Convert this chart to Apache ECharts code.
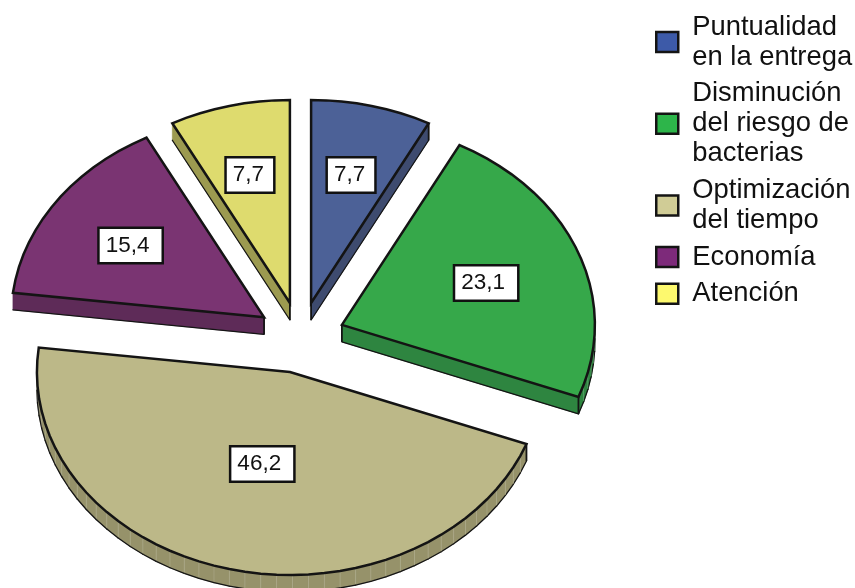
<!DOCTYPE html>
<html>
<head>
<meta charset="utf-8">
<style>html,body{margin:0;padding:0;background:#fff}#chart{width:855px;height:588px}</style>
<script src="https://cdn.jsdelivr.net/npm/echarts@6/dist/echarts.min.js"></script>
</head>
<body>
<div id="chart"></div>
<script>
// Motivos de preferencia, en porcentaje
const categories = ['Puntualidad\nen la entrega', 'Disminución\ndel riesgo de\nbacterias', 'Optimización\ndel tiempo', 'Economía', 'Atención'];
const values = [7.7, 23.1, 46.2, 15.4, 7.7];
const valueLabels = ['7,7', '23,1', '46,2', '15,4', '7,7'];

// Colours: pie faces, extruded walls, legend swatches
const faceColors = ['#4c6197', '#36a84a', '#bcb888', '#7a3472', '#dedb6e'];
const wallColors = ['#3e4b6f', '#2e8540', '#96926a', '#5e2b58', '#9c9a50'];
const swatchColors = ['#3d5aa8', '#2db54a', '#d0cc96', '#7d2a7a', '#fdf96e'];

// Tilted pie geometry, in pixels
const CX = 300.5, CY = 337.5, RX = 253, RY = 203, DEPTH = 17, EXPLODE = 0.175;
const OUTLINE = '#141414';
const LABEL_DROP = 2;

const total = values.reduce((a, b) => a + b, 0);

function pointOn(cx, cy, t, r) {
  return [cx + RX * r * Math.sin(t), cy - RY * r * Math.cos(t)];
}

function drawSlice(index, value, startValue) {
  const t0 = startValue / total * Math.PI * 2;
  const sweep = value / total * Math.PI * 2;
  const t1 = t0 + sweep;
  const mid = (t0 + t1) / 2;
  const tip = pointOn(CX, CY, mid, EXPLODE);

  const arc = [];
  const steps = Math.max(2, Math.round(sweep / (Math.PI / 50)));
  for (let i = 0; i <= steps; i++) {
    arc.push(pointOn(tip[0], tip[1], t0 + sweep * i / steps, 1));
  }
  const top = [tip].concat(arc);
  const drop = p => [p[0], p[1] + DEPTH];
  const children = [];

  // Only edges running right to left face the viewer; the rest stay hidden
  const corners = new Set();
  top.forEach((p, i) => {
    const next = (i + 1) % top.length;
    const q = top[next];
    if (q[0] - p[0] >= -0.01) return;
    children.push({
      type: 'polygon',
      shape: { points: [p, q, drop(q), drop(p)] },
      style: { fill: wallColors[index], stroke: wallColors[index], lineWidth: 0.6 }
    });
    children.push({
      type: 'line',
      shape: { x1: p[0], y1: p[1] + DEPTH, x2: q[0], y2: q[1] + DEPTH },
      style: { stroke: OUTLINE, lineWidth: 1.3, lineCap: 'round' }
    });
    // Faint seam between neighbouring rim facets
    if (i > 0 && next > 0) {
      children.push({
        type: 'line',
        shape: { x1: p[0], y1: p[1], x2: p[0], y2: p[1] + DEPTH - 1 },
        style: { stroke: '#ffffff', opacity: 0.16, lineWidth: 1 }
      });
    }
    if (i === 0 || i === 1) corners.add(i);
    if (next === 0 || i === arc.length - 1 || i === arc.length) corners.add(next);
    if (next === 0) corners.add(i);
  });
  // Vertical corners where a visible wall meets the tip or an arc end
  [0, 1, top.length - 1].forEach(i => {
    if (!corners.has(i)) return;
    const p = top[i];
    children.push({
      type: 'line',
      shape: { x1: p[0], y1: p[1], x2: p[0], y2: p[1] + DEPTH },
      style: { stroke: OUTLINE, lineWidth: 1.8 }
    });
  });
  // Top face
  children.push({
    type: 'polygon',
    shape: { points: top },
    style: { fill: faceColors[index], stroke: OUTLINE, lineWidth: 2.5, lineJoin: 'miter' }
  });
  // Value box sits on the centroid of the sector
  const half = sweep / 2;
  const f = (2 / 3) * Math.sin(half) / half;
  const c = pointOn(tip[0], tip[1], mid, f);
  children.push({
    type: 'text',
    style: {
      x: c[0], y: c[1] + LABEL_DROP,
      text: valueLabels[index],
      align: 'center', verticalAlign: 'middle',
      font: '22.5px "Liberation Sans", Arial, sans-serif',
      fill: '#111',
      backgroundColor: '#fff',
      borderColor: '#111',
      borderWidth: 2.5,
      padding: [5, valueLabels[index].length > 3 ? 12 : 9, 5, 6]
    }
  });
  return { type: 'group', children };
}

let running = 0;
const series = values.map((v, i) => {
  const start = running;
  running += v;
  return {
    type: 'custom',
    name: categories[i],
    coordinateSystem: 'none',
    silent: true,
    animation: false,
    itemStyle: { color: swatchColors[i] },
    data: [[v]],
    renderItem: (params, api) => drawSlice(i, api.value(0), start)
  };
});

const chart = echarts.init(document.getElementById('chart'), null, { renderer: 'canvas' });
chart.setOption({
  backgroundColor: '#ffffff',
  animation: false,
  legend: {
    orient: 'vertical',
    left: 650,
    top: 2.5,
    padding: 5,
    itemGap: -2.3,
    itemWidth: 22,
    itemHeight: 20,
    icon: 'rect',
    selectedMode: false,
    align: 'left',
    data: categories.map((name, i) => ({
      name,
      icon: 'rect',
      itemStyle: { color: swatchColors[i], borderColor: OUTLINE, borderWidth: 2.5 }
    })),
    textStyle: {
      fontFamily: '"Liberation Sans", Arial, sans-serif',
      fontSize: 27.4,
      lineHeight: 30,
      color: '#111',
      padding: [9, 0, 0, 9]
    }
  },
  series
});
</script>
</body>
</html>
